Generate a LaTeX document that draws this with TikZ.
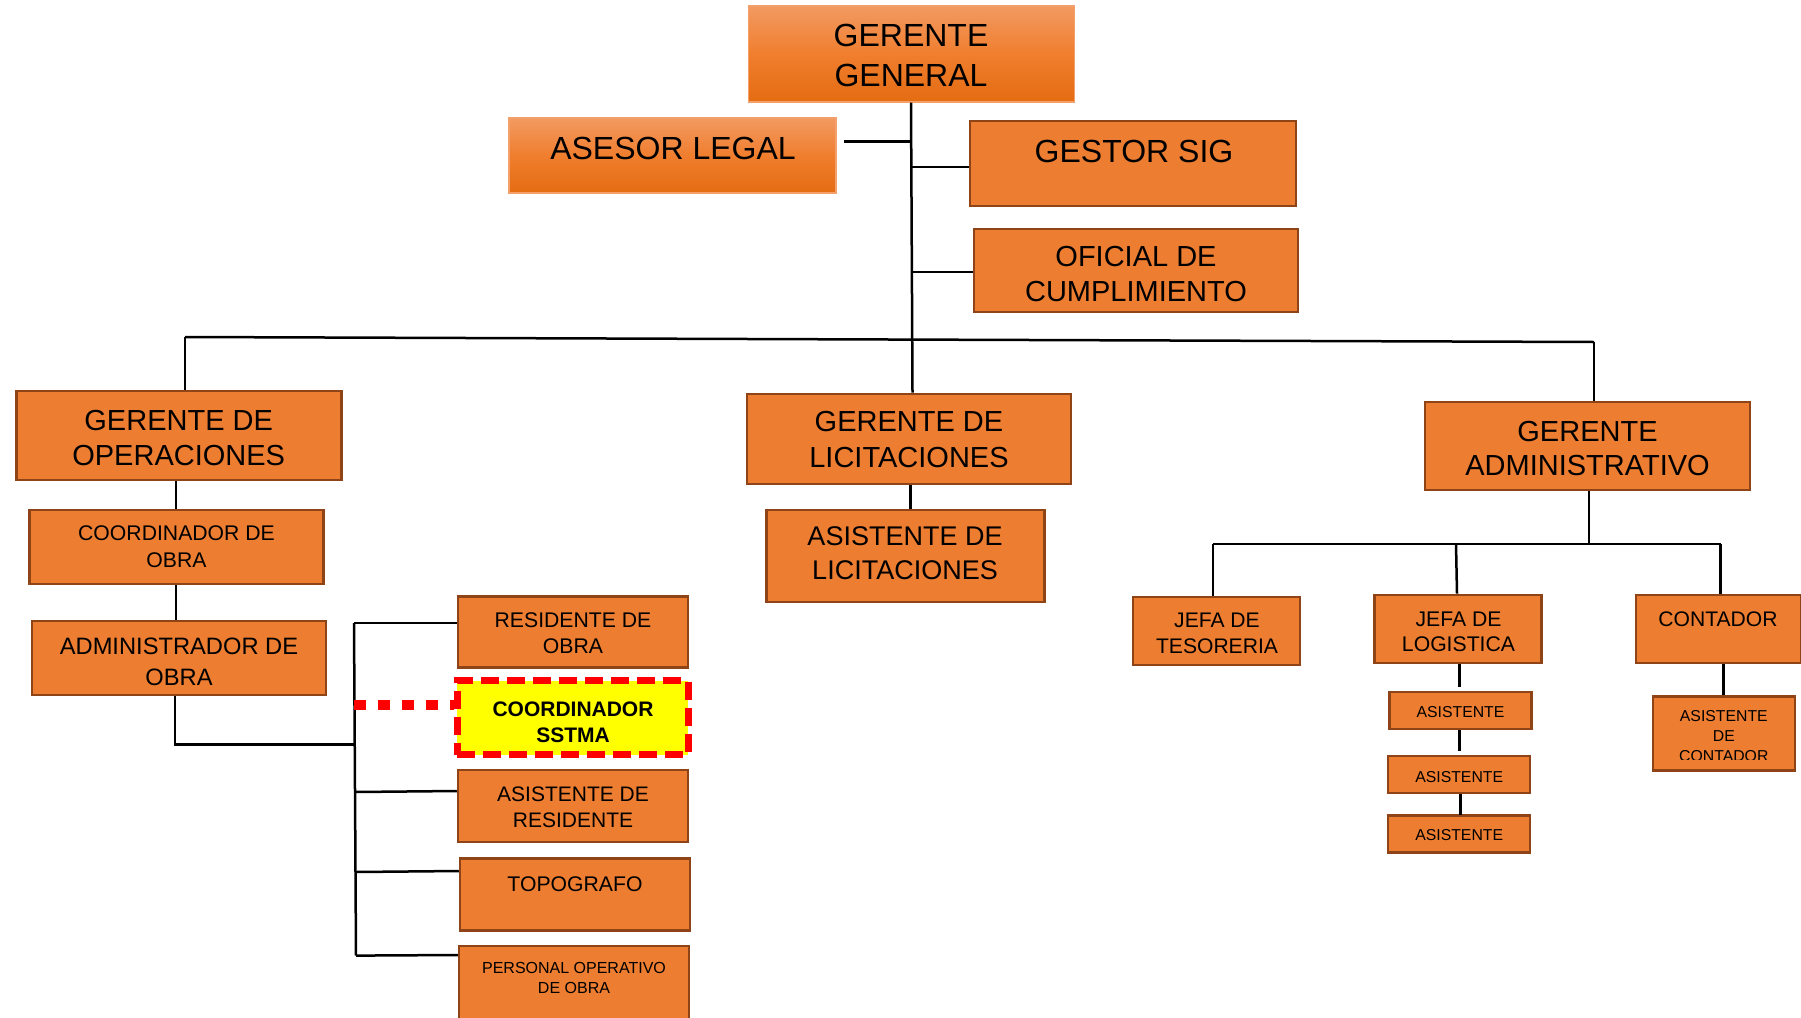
\documentclass[tikz,border=0pt]{standalone}
\usepackage{fontspec}
\setmainfont{Liberation Sans}
\definecolor{orfill}{HTML}{ED7D31}
\definecolor{orline}{HTML}{8E4416}
\definecolor{gtop}{HTML}{F29A62}
\definecolor{gmid}{HTML}{F07E2E}
\definecolor{gbot}{HTML}{E46C12}
\definecolor{gline}{HTML}{F3A06A}
\definecolor{sred}{HTML}{FF0000}
\definecolor{syel}{HTML}{FFFF00}
\newcommand\myfs[2]{\fontsize{#1pt}{#2pt}\selectfont}
\tikzset{
  obox/.style={draw=orline, line width=2.5pt, fill=orfill, inner sep=0pt, rectangle},
  gbox/.style={draw=gline, line width=1.2pt, top color=gtop, bottom color=gbot, middle color=gmid, inner sep=0pt, rectangle},
  sbox/.style={draw=sred, line width=7pt, dash pattern=on 18pt off 8pt, fill=syel, inner sep=0pt, rectangle},
  txt/.style={align=center, inner sep=0pt, text=black},
  conn/.style={line width=2.5pt, draw=black},
  dotconn/.style={line width=10pt, draw=sred, dash pattern=on 11.5pt off 12.5pt}
}
\begin{document}
\begin{tikzpicture}[x=1pt,y=-1pt]
\clip (0,0) rectangle (1801,1017);
\fill[white] (0,0) rectangle (1801,1017);

% ---- top level
\node[gbox, minimum width=326pt, minimum height=96pt] (gg) at (911.75,54) {};
\node[txt, font=\myfs{32}{40}] (ggt) at (911,55.5) {GERENTE\\GENERAL};

\node[gbox, minimum width=327pt, minimum height=75pt] (ase) at (672.5,155.5) {};
\node[txt, font=\myfs{32}{40}] (aset) at (673,148) {ASESOR LEGAL};

\node[obox, minimum width=326pt, minimum height=85pt] (ges) at (1133,163.5) {};
\node[txt, font=\myfs{32}{40}] (gest) at (1134,151) {GESTOR SIG};

\node[obox, minimum width=324pt, minimum height=83pt] (ofi) at (1136,270.5) {};
\node[txt, font=\myfs{29}{35}] (ofit) at (1136,274.5) {OFICIAL DE\\CUMPLIMIENTO};

% ---- second level
\node[obox, minimum width=325pt, minimum height=89pt] (gop) at (178.75,435.5) {};
\node[txt, font=\myfs{29}{34.5}] (gopt) at (178.7,437.8) {GERENTE DE\\OPERACIONES};

\node[obox, minimum width=324pt, minimum height=90pt] (glic) at (909,438.85) {};
\node[txt, font=\myfs{29}{36}] (glict) at (909,439.9) {GERENTE DE\\LICITACIONES};

\node[obox, minimum width=325pt, minimum height=88pt] (gadm) at (1587.5,445.85) {};
\node[txt, font=\myfs{29}{33.5}] (gadmt) at (1587.5,448.4) {GERENTE\\ADMINISTRATIVO};

% ---- operaciones branch
\node[obox, minimum width=294pt, minimum height=74pt] (coo) at (176.55,546.75) {};
\node[txt, font=\myfs{21.2}{27}] (coot) at (176.5,546.5) {COORDINADOR DE\\OBRA};

\node[obox, minimum width=294pt, minimum height=74pt] (adm) at (178.9,658) {};
\node[txt, font=\myfs{23.7}{31}] (admt) at (179,661.5) {ADMINISTRADOR DE\\OBRA};

\node[obox, minimum width=230pt, minimum height=71pt] (res) at (573,632) {};
\node[txt, font=\myfs{21.2}{26}] (rest) at (573,633) {RESIDENTE DE\\OBRA};

\node[sbox, minimum width=231pt, minimum height=74pt] (sst) at (572.5,717.5) {};
\node[txt, font=\bfseries\myfs{21}{26}] (sstt) at (573,722) {COORDINADOR\\SSTMA};

\node[obox, minimum width=230pt, minimum height=72pt] (asr) at (573,806) {};
\node[txt, font=\myfs{21}{26}] (asrt) at (573,807) {ASISTENTE DE\\RESIDENTE};

\node[obox, minimum width=230pt, minimum height=72pt] (top) at (575,894.6) {};
\node[txt, font=\myfs{21.2}{26}] (topt) at (575,884) {TOPOGRAFO};

\node[obox, minimum width=230pt, minimum height=84pt] (per) at (574,988) {};
\node[txt, font=\myfs{16}{19.7}] (pert) at (574,978) {PERSONAL OPERATIVO\\DE OBRA};

% ---- licitaciones branch
\node[obox, minimum width=278pt, minimum height=92pt] (alic) at (905.25,556) {};
\node[txt, font=\myfs{27}{34}] (alict) at (905,553) {ASISTENTE DE\\LICITACIONES};

% ---- administrativo branch
\node[obox, minimum width=167pt, minimum height=68pt] (jt) at (1216.5,631) {};
\node[txt, font=\myfs{21.1}{26}] (jtt) at (1217,633) {JEFA DE\\TESORERIA};

\node[obox, minimum width=167pt, minimum height=68pt] (jl) at (1458.1,628.85) {};
\node[txt, font=\myfs{21.2}{25}] (jlt) at (1458.5,631.5) {JEFA DE\\LOGISTICA};

\node[obox, minimum width=165pt, minimum height=68pt] (con) at (1718.3,628.85) {};
\node[txt, font=\myfs{21.1}{26}] (cont) at (1718,619) {CONTADOR};

\node[obox, minimum width=142pt, minimum height=37pt] (as1) at (1460.35,710.35) {};
\node[txt, font=\myfs{15.8}{19}] (as1t) at (1460.5,712) {ASISTENTE};
\node[obox, minimum width=142pt, minimum height=37pt] (as2) at (1459.2,774.65) {};
\node[txt, font=\myfs{15.8}{19}] (as2t) at (1459.2,776.7) {ASISTENTE};
\node[obox, minimum width=142pt, minimum height=37pt] (as3) at (1459.2,833.8) {};
\node[txt, font=\myfs{15.8}{19}] (as3t) at (1459.2,835) {ASISTENTE};

\node[obox, minimum width=142pt, minimum height=74pt] (asc) at (1723.8,733.35) {};
\begin{scope}
\clip (1652,697) rectangle (1795,759.8);
\node[txt, font=\myfs{15.8}{19.7}, anchor=north] (asct) at (1723.8,710.7) {ASISTENTE\\DE\\CONTADOR};
\end{scope}

% ---- connectors
\coordinate (ta) at (185,337);
\coordinate (tb) at (1594,342);
\draw[conn] (gg.south -| ggt) -- (912.5,392.7 |- glic.north);
\draw[conn] (844,141.7) -- (910,141.7);
\draw[conn] (911,167) -- (ges.west |- 911,167);
\draw[conn] (911,272) -- (ofi.west |- 911,272);
\draw[conn] (ta) -- (tb);
\draw[conn] (ta) -- (ta |- gop.north);
\draw[conn] (tb) -- (tb |- gadm.north);

\draw[conn] (176,481) -- (176,508.5);
\draw[conn] (176,585) -- (176,620);
\coordinate (bt) at (354,623);
\coordinate (bb) at (356,955.6);
\draw[conn] (175,696) -- (175,744.6) -- (355,744.6);
\draw[conn] (bt) -- (bb);
\draw[conn] (bt) -- (res.west |- bt);
\draw[conn] (355,792) -- (asr.west |- 355,791);
\draw[conn] (355.5,872) -- (top.west |- 355,871);
\draw[conn] (bb) -- (per.west |- 355,955);
\draw[dotconn] (354,705) -- (sst.west |- 354,705);

\draw[conn] (910.7,485) -- (910.7,509);

\coordinate (ra) at (1213,544);
\coordinate (rb) at (1720.5,544);
\draw[conn] (1589,491) -- (1589,544);
\draw[conn] (ra) -- (rb);
\draw[conn] (ra) -- (ra |- jt.north);
\draw[conn] (1456,544) -- (1457,593.7);
\draw[conn] (rb) -- (rb |- con.north);
\draw[conn] (1459.4,664) -- (1459.4,687);
\draw[conn] (1459.6,730) -- (1459.6,751);
\draw[conn] (1460.5,794) -- (1460.5,815);
\draw[conn] (1723.6,664) -- (1723.6,695);
\end{tikzpicture}
\end{document}
